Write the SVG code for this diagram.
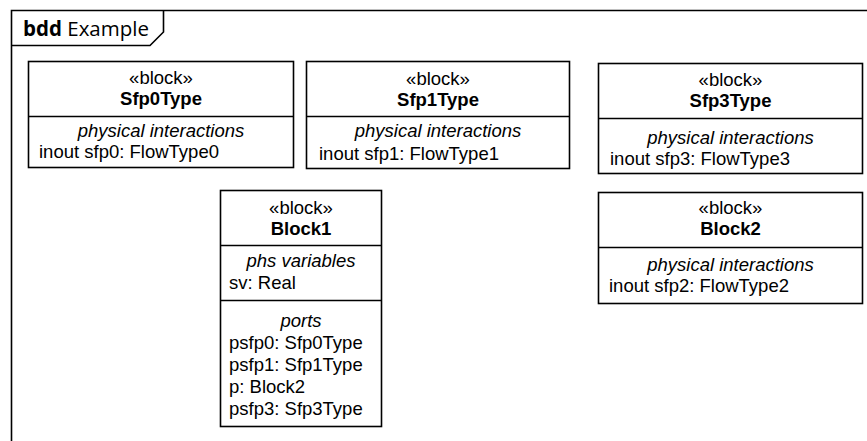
<svg xmlns="http://www.w3.org/2000/svg" width="867" height="441" viewBox="0 0 867 441">
<style>
.box{fill:#fff;stroke:#000;stroke-width:1.6}
.ln{stroke:#000;stroke-width:1.6;fill:none}
text{font-family:"Liberation Sans",Arial,sans-serif;font-size:18.5px;fill:#000}
.c{text-anchor:middle}
.b{font-weight:bold}
.i{font-style:italic}
.ft{font-family:"Open Sans","DejaVu Sans",sans-serif;font-size:20.5px}
</style>
<rect width="867" height="441" fill="#fff"/>
<g id="frame">
<path class="ln" d="M11.5,441 V10.5 H867"/>
<path class="ln" d="M11.5,45.5 H150 L163.5,32 V10.5"/>
<text class="ft" x="23" y="36"><tspan font-weight="bold">bdd</tspan> Example</text>
</g>
<g id="Sfp0Type">
<rect class="box" x="28.5" y="61.5" width="265" height="106"/>
<line class="ln" x1="28.5" y1="116.5" x2="293.5" y2="116.5"/>
<text class="c" x="161" y="84">«block»</text>
<text class="c b" x="161" y="105">Sfp0Type</text>
<text class="c i" x="161" y="137">physical interactions</text>
<text x="39" y="158">inout sfp0: FlowType0</text>
</g>
<g id="Sfp1Type">
<rect class="box" x="306.5" y="61.5" width="263" height="107"/>
<line class="ln" x1="306.5" y1="116.5" x2="569.5" y2="116.5"/>
<text class="c" x="438" y="85">«block»</text>
<text class="c b" x="438" y="106">Sfp1Type</text>
<text class="c i" x="438" y="137">physical interactions</text>
<text x="319" y="160">inout sfp1: FlowType1</text>
</g>
<g id="Sfp3Type">
<rect class="box" x="598.5" y="63.5" width="264" height="110"/>
<line class="ln" x1="598.5" y1="118.5" x2="862.5" y2="118.5"/>
<text class="c" x="730.5" y="86">«block»</text>
<text class="c b" x="730.5" y="107">Sfp3Type</text>
<text class="c i" x="730.5" y="144">physical interactions</text>
<text x="610" y="165">inout sfp3: FlowType3</text>
</g>
<g id="Block2">
<rect class="box" x="598.5" y="192.5" width="264" height="111"/>
<line class="ln" x1="598.5" y1="247.5" x2="862.5" y2="247.5"/>
<text class="c" x="730.5" y="214">«block»</text>
<text class="c b" x="730.5" y="235">Block2</text>
<text class="c i" x="730.5" y="271">physical interactions</text>
<text x="609" y="292">inout sfp2: FlowType2</text>
</g>
<g id="Block1">
<rect class="box" x="220.5" y="190.5" width="161" height="236"/>
<line class="ln" x1="220.5" y1="245.5" x2="381.5" y2="245.5"/>
<line class="ln" x1="220.5" y1="300.5" x2="381.5" y2="300.5"/>
<text class="c" x="301" y="214">«block»</text>
<text class="c b" x="301" y="235">Block1</text>
<text class="c i" x="301" y="267">phs variables</text>
<text x="229" y="289">sv: Real</text>
<text class="c i" x="301" y="327">ports</text>
<text x="229" y="349">psfp0: Sfp0Type</text>
<text x="229" y="371">psfp1: Sfp1Type</text>
<text x="229" y="393">p: Block2</text>
<text x="229" y="415">psfp3: Sfp3Type</text>
</g>
<g id="connectors"></g>
</svg>
